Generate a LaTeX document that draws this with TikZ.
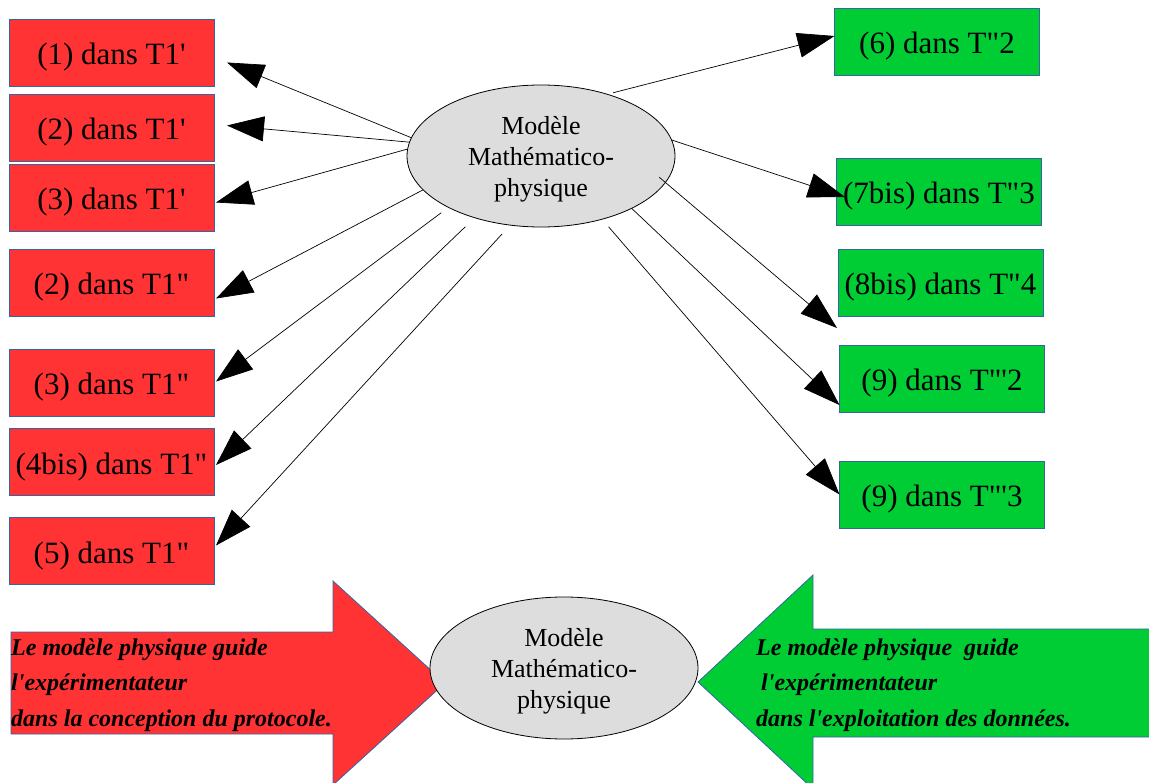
\documentclass[tikz,border=0pt]{standalone}
\usepackage{fontspec}
\newfontfamily\dansfont{Liberation Serif}
\usetikzlibrary{arrows.meta,shapes.geometric}
\definecolor{rouge}{HTML}{FF3333}
\definecolor{vert}{HTML}{00CC33}
\definecolor{gris}{HTML}{DDDDDD}
\definecolor{bord}{HTML}{3465A4}
\tikzset{
  boite/.style={draw=bord,line width=0.8pt,minimum width=205pt,minimum height=67pt,inner sep=0pt,outer sep=0pt,text height=25pt,text depth=0pt,font=\dansfont\fontsize{31}{37}\selectfont},
  rbox/.style={boite,fill=rouge},
  vbox/.style={boite,fill=vert},
  modele/.style={ellipse,draw,fill=gris,line width=0.8pt,minimum width=268pt,minimum height=142pt,inner sep=0pt,outer sep=0pt,text depth=0pt,align=center,font=\dansfont\fontsize{26}{31}\selectfont},
  fl/.style={line width=0.7pt,-{Triangle[length=37pt,width=25pt]}},
  guide/.style={anchor=west,align=left,inner sep=0pt,font=\dansfont\bfseries\itshape\fontsize{24}{35.5}\selectfont}
}

\begin{document}
\begin{tikzpicture}[x=1pt,y=-1pt]
    \clip (0,0) rectangle (1149,783);
    \fill[white] (0,0) rectangle (1149,783);
    \def\xg{111.5}
    \node[rbox] (l1) at (\xg,52.5) {(1) dans T1'};
    \node[rbox] (l2) at (\xg,127.5) {(2) dans T1'};
    \node[rbox] (l3) at (\xg,197.5) {(3) dans T1'};
    \node[rbox] (l4) at (\xg,282.5) {(2) dans T1"};
    \node[rbox] (l5) at (\xg,382.5) {(3) dans T1"};
    \node[rbox] (l6) at (\xg,462) {(4bis) dans T1"};
    \node[rbox] (l7) at (\xg,550.5) {(5) dans T1"};
    \node[vbox] (r1) at (937,41.5) {(6) dans T"2};
    \node[vbox] (r2) at (939,191.5) {(7bis) dans T"3};
    \node[vbox] (r3) at (940.5,282.5) {(8bis) dans T"4};
    \node[vbox] (r4) at (942,378.5) {(9) dans T"'2};
    \node[vbox] (r5) at (942,494.5) {(9) dans T"'3};
    \node[modele] (haut) at (541,156) {Modèle\\Mathématico-\\physique};
    \draw[fl] (haut.172) -- ([shift={(13,10)}]l1.east);
    \draw[fl] (haut.174) -- ([shift={(13,-2)}]l2.east);
    \draw[fl] (haut.177) -- ([shift={(2,5)}]l3.east);
    \draw[fl] (haut.196) -- ([shift={(2,16)}]l4.east);
    \draw[fl,shorten <=9pt] (haut.209) -- ([shift={(2,-1)}]l5.east);
    \draw[fl,shorten <=13pt] (haut.223) -- ([shift={(2,3)}]l6.east);
    \draw[fl,shorten <=12pt] (haut.246) -- ([shift={(2,-5)}]l7.east);
    \draw[fl,shorten <=6pt] (haut.43) -- ([shift={(0,-5.5)}]r1.west);
    \draw[fl] (haut.7) -- ([shift={(8.5,5.5)}]r2.west);
    \draw[fl,shorten <=-8pt] (haut.348) -- ([shift={(-1,12)}]r3.south west);
    \draw[fl] (haut.330) -- ([shift={(0,-7)}]r4.south west);
    \draw[fl,shorten <=10pt] (haut.314) -- (r5.west);
    \filldraw[draw=bord,fill=rouge,line width=0.8pt] (11,632) -- (333,632) -- (333,581) -- (445,683)
        -- (333,785) -- (333,734) -- (11,734) -- cycle;
    \filldraw[draw=bord,fill=vert,line width=0.8pt] (1152,629) -- (813,629) -- (813,575) -- (698,682)
        -- (813,789) -- (813,737) -- (1152,737) -- cycle;
    \node[modele] (bas) at (564,668) {Modèle\\Mathématico-\\physique};
    \node[guide] (protocole) at (11,685) {Le modèle physique guide\\l'expérimentateur\\dans la conception du protocole.};
    \node[guide] (donnees) at (756,685) {Le modèle physique\ \ guide\\\hspace*{5pt}l'expérimentateur\\dans l'exploitation des données.};
\end{tikzpicture}
\end{document}
